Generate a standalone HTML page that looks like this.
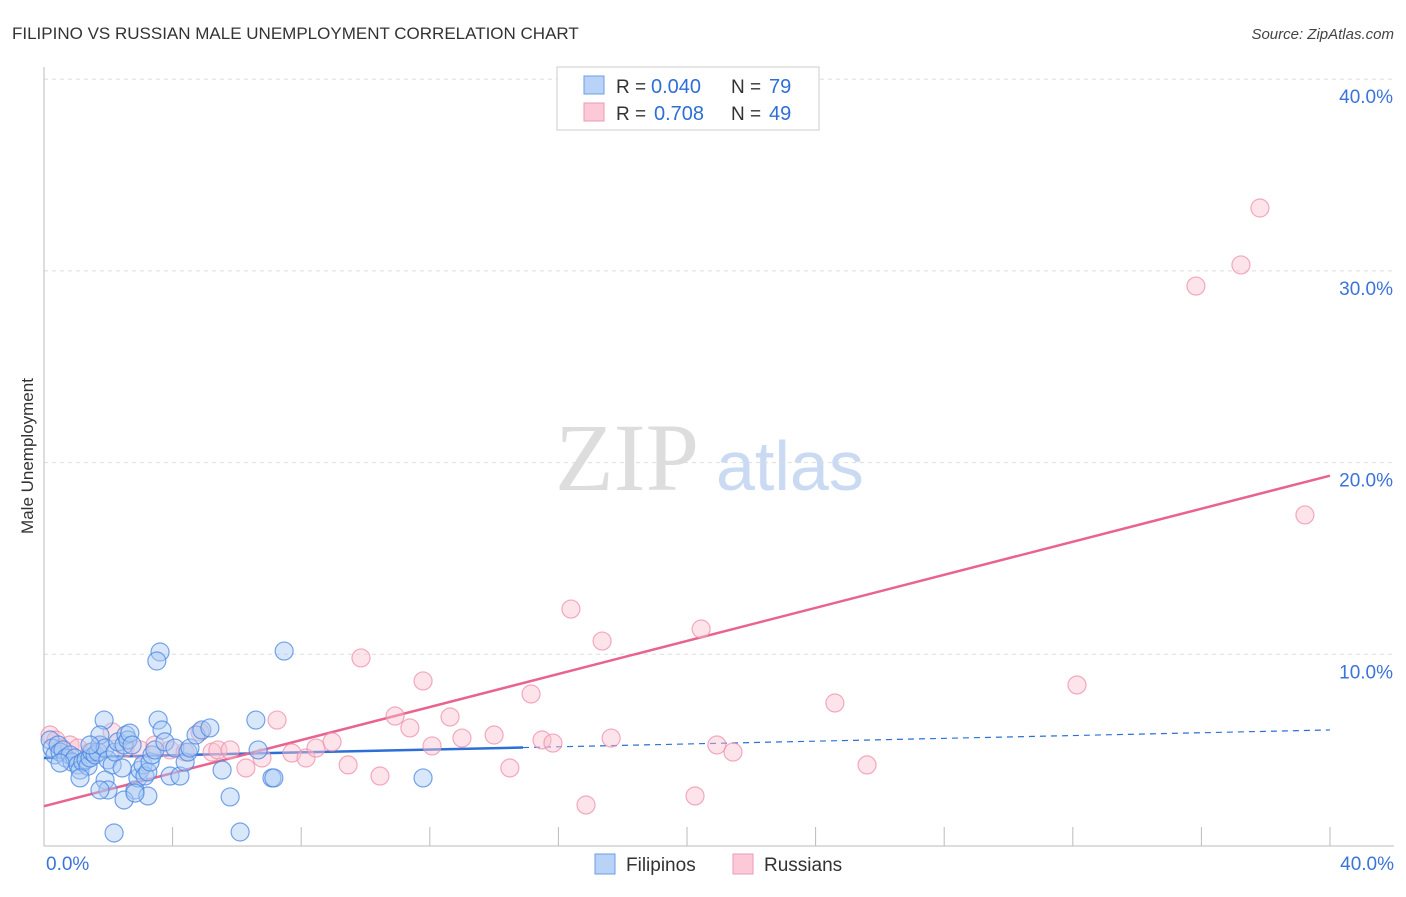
<!DOCTYPE html>
<html><head><meta charset="utf-8"><style>
body{margin:0;background:#fff;font-family:"Liberation Sans",sans-serif;}
</style></head><body>
<svg width="1406" height="892" xmlns="http://www.w3.org/2000/svg">
<text x="12" y="39" font-size="17" fill="#333">FILIPINO VS RUSSIAN MALE UNEMPLOYMENT CORRELATION CHART</text>
<text x="1394" y="39" font-size="15" fill="#444" font-style="italic" text-anchor="end">Source: ZipAtlas.com</text>
<text transform="translate(33,456) rotate(-90)" font-size="17" fill="#333" text-anchor="middle">Male Unemployment</text>
<g>
<text x="555" y="490" font-family="Liberation Serif,serif" font-size="96" fill="#ddd">ZIP</text>
<text x="716" y="490" font-size="70" fill="#c9daf2">atlas</text>
</g>
<g id="grid"></g><g id="axes"></g>
<g id="trends"></g><g id="pts"></g>
<g>
<rect x="557" y="67" width="262" height="63" fill="#fff" stroke="#ccc"/>
<rect x="584" y="76" width="20" height="18" fill="#b8d3f7" stroke="#6d9de6"/>
<rect x="584" y="103" width="20" height="18" fill="#fbc9d8" stroke="#ef9ab3"/>
<text x="616" y="93" font-size="19" fill="#333">R =</text>
<text x="651" y="93" font-size="20" fill="#2d6fd6">0.040</text>
<text x="731" y="93" font-size="19" fill="#333">N =</text>
<text x="769" y="93" font-size="20" fill="#2d6fd6">79</text>
<text x="616" y="120" font-size="19" fill="#333">R =</text>
<text x="654" y="120" font-size="20" fill="#2d6fd6">0.708</text>
<text x="731" y="120" font-size="19" fill="#333">N =</text>
<text x="769" y="120" font-size="20" fill="#2d6fd6">49</text>
</g>
<g>
<rect x="595" y="854" width="20" height="20" fill="#b8d3f7" stroke="#6d9de6"/>
<text x="626" y="871" font-size="19" fill="#333">Filipinos</text>
<rect x="733" y="854" width="20" height="20" fill="#fbc9d8" stroke="#ef9ab3"/>
<text x="764" y="871" font-size="19" fill="#333">Russians</text>
</g>
</svg>
<script>
const yTicks=[10,20,30,40];
const xTickLabels=["0.0%","40.0%"];
const blueX=[0.19,0.25,0.34,0.44,0.50,0.59,0.68,0.81,0.87,0.96,1.06,1.12,1.21,1.31,1.37,1.43,1.49,1.59,1.68,1.74,1.87,1.74,1.90,1.99,2.12,2.21,2.30,2.43,2.49,2.55,2.61,2.67,2.74,2.83,2.92,2.99,3.08,3.14,3.23,3.30,3.36,3.45,3.55,3.61,3.51,3.67,3.76,3.92,4.07,4.23,4.39,4.48,4.54,4.73,4.91,5.16,5.54,5.79,6.10,6.59,6.66,7.09,7.15,7.47,11.79,2.18,2.49,3.23,2.83,1.90,1.99,1.12,1.43,0.50,1.74];
const blueY=[5.53,5.11,4.75,5.27,4.90,5.01,4.59,4.75,4.38,4.59,4.23,3.96,4.38,4.49,4.17,4.59,4.90,4.75,4.90,5.27,6.57,5.79,5.11,4.49,4.23,4.90,5.43,4.07,5.27,5.79,5.53,5.89,5.27,2.92,3.55,3.96,4.23,3.65,3.86,4.38,4.75,5.01,6.57,10.12,9.65,6.05,5.43,3.65,5.11,3.65,4.38,4.90,5.11,5.79,6.05,6.16,3.96,2.56,0.73,6.57,5.01,3.55,3.55,10.17,3.55,0.68,2.40,2.61,2.76,3.44,2.92,3.55,5.27,4.33,2.92];
const pinkX=[0.19,0.37,0.56,0.81,1.06,1.43,1.74,2.12,2.52,2.99,3.45,3.92,4.39,4.85,5.23,5.41,5.79,6.28,6.78,7.25,7.71,8.15,8.46,8.96,9.46,9.86,10.45,10.92,11.38,11.79,12.07,12.63,13.00,14.00,14.49,15.15,15.49,15.83,16.39,16.86,17.36,17.64,20.25,20.44,20.93,21.43,24.60,25.60,32.13,35.83,37.23,37.82,39.22];
const pinkY=[5.79,5.53,5.11,5.27,5.11,4.90,5.27,5.95,5.11,5.01,5.27,5.01,4.90,5.95,4.90,5.01,5.01,4.07,4.59,6.57,4.85,4.59,5.11,5.43,4.23,9.81,3.65,6.78,6.16,8.61,5.22,6.73,5.63,5.79,4.07,7.93,5.53,5.37,12.36,2.14,10.69,5.63,2.61,11.32,5.27,4.90,7.46,4.23,8.40,29.21,30.31,33.28,17.27];
const NS="http://www.w3.org/2000/svg";
const X=v=>44+v/40*1286, Y=v=>846-v*19.17;
function mk(t,a,p){const e=document.createElementNS(NS,t);for(const k in a)e.setAttribute(k,a[k]);document.getElementById(p).appendChild(e);return e;}
yTicks.forEach(t=>{
 const l=mk('line',{x1:44,x2:1394,y1:Y(t),y2:Y(t),stroke:'#ddd','stroke-dasharray':'4,4'},'grid');
 
 
 const tx=mk('text',{x:1393,y:Y(t)+24,'font-size':19,fill:'#3b74d8','text-anchor':'end'},'grid');
 tx.textContent=t.toFixed(1)+'%';
 
 
});
const ax=mk('line',{x1:44,x2:44,y1:67,y2:846,stroke:'#bbb'},'axes');


const bx=mk('line',{x1:44,x2:1394,y1:846,y2:846,stroke:'#bbb'},'axes');


for(let i=1;i<=10;i++){const tk=mk('line',{x1:X(i*4),x2:X(i*4),y1:827,y2:846,stroke:'#bbb'},'axes');
 
 }
[[0,'start',46],[40,'end',1394]].forEach((d,i)=>{const t=mk('text',{x:d[2],y:870,'font-size':19,fill:'#3b74d8','text-anchor':d[1]},'axes');t.textContent=xTickLabels[i];
 
 });
function reg(xs,ys){const n=xs.length;let mx=0,my=0;xs.forEach((x,i)=>{mx+=x;my+=ys[i];});mx/=n;my/=n;let sxy=0,sxx=0;xs.forEach((x,i)=>{sxy+=(x-mx)*(ys[i]-my);sxx+=(x-mx)*(x-mx);});const b=sxy/sxx;return [my-b*mx,b];}
function draw(xs,ys,fill,stroke,name){xs.forEach((x,i)=>{const c=mk('circle',{cx:X(x),cy:Y(ys[i]),r:9,fill:fill,'fill-opacity':0.45,stroke:stroke,'stroke-opacity':0.75,'stroke-width':1.2},'pts');
 
 });}
draw(pinkX,pinkY,'#fbc0d1','#ee8fab','russian-point');
draw(blueX,blueY,'#aac9f3','#4a86e0','filipino-point');
const [ba,bb]=reg(blueX,blueY), xe=14.9;
const l1=mk('line',{x1:X(0),y1:Y(ba),x2:X(xe),y2:Y(ba+bb*xe),stroke:'#2d6fd6','stroke-width':2.5},'trends');


const l2=mk('line',{x1:X(xe),y1:Y(ba+bb*xe),x2:X(40),y2:Y(ba+bb*40),stroke:'#2d6fd6','stroke-width':1.2,'stroke-dasharray':'6,5'},'trends');


const [pa,pb]=reg(pinkX,pinkY);
const l3=mk('line',{x1:X(0),y1:Y(pa),x2:X(40),y2:Y(pa+pb*40),stroke:'#e8648e','stroke-width':2.5},'trends');


</script>
</body></html>
